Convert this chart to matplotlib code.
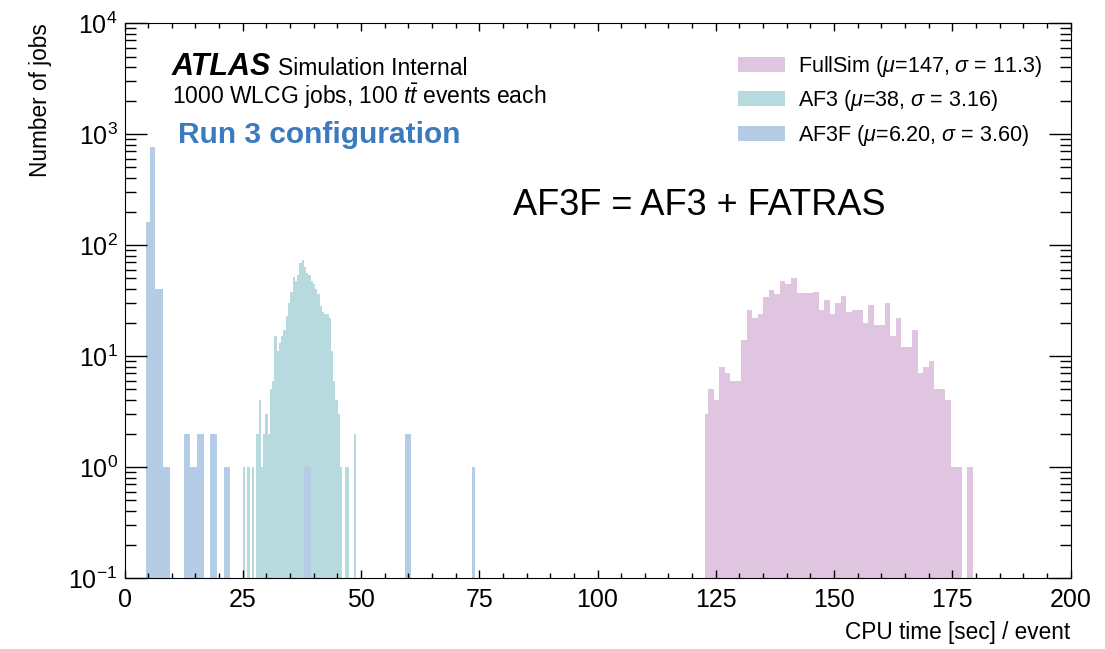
import numpy as np
import matplotlib
matplotlib.use("Agg")
import matplotlib.pyplot as plt
from matplotlib.ticker import MultipleLocator, LogLocator, NullFormatter

plt.rcParams['font.family'] = ['Liberation Sans', 'DejaVu Sans']
plt.rcParams['mathtext.fontset'] = 'custom'
plt.rcParams['mathtext.rm'] = 'Liberation Sans'
plt.rcParams['mathtext.it'] = 'Liberation Sans:italic'
plt.rcParams['mathtext.bf'] = 'Liberation Sans:bold'

# FullSim: jobs per bin (first bin is a short one)
fullsim_edges = np.r_[122.7, np.linspace(123.43, 179.35, 49)]
fullsim_counts = [3, 5, 4, 8, 7, 6, 6, 14, 26, 22, 24, 34, 39, 36, 47, 45, 51,
                  37, 37, 37, 38, 26, 32, 24, 30, 35, 25, 26, 26, 20, 29, 19,
                  19, 30, 15, 22, 12, 12, 17, 7, 8, 9, 5, 5, 4, 1, 1, 0, 1]

# AF3
af3_edges = np.linspace(25.0, 48.9, 51)
af3_counts = [1, 0, 1, 0, 1, 0, 2, 4, 1, 2, 3, 2, 5, 6, 15, 11, 13, 15, 17, 23,
              30, 38, 52, 47, 54, 69, 73, 63, 56, 54, 47, 45, 40, 36, 28, 25,
              24, 24, 22, 11, 6, 4, 3, 1, 0, 1, 1, 0, 0, 2]

# AF3F
af3f_edges = [4.6, 5.45, 6.5, 8.2, 9.6, 12.5, 13.9, 15.3, 16.75, 18.15, 19.6,
              21.0, 22.4, 38.0, 39.4, 59.3, 60.6, 73.4, 74.1]
af3f_counts = [160, 760, 40, 1, 0, 2, 1, 2, 0, 2, 0, 1, 0, 1, 0, 2, 0, 1]

labels = ['FullSim ($\\mu$=147, $\\sigma$ = 11.3)',
          'AF3 ($\\mu$=38, $\\sigma$ = 3.16)',
          'AF3F ($\\mu$=6.20, $\\sigma$ = 3.60)']
colors = ['#e0c5e0', '#b6dade', '#b4cce6']

fig = plt.figure(figsize=(11.05, 6.49), dpi=100)
ax = fig.add_axes([0.1127, 0.1094, 0.8561, 0.855])
ax.set_yscale('log')

for edges, counts, lab, col in zip([fullsim_edges, af3_edges, af3f_edges],
                                   [fullsim_counts, af3_counts, af3f_counts],
                                   labels, colors):
    edges = np.asarray(edges)
    centers = 0.5 * (edges[:-1] + edges[1:])
    ax.hist(centers, bins=edges, weights=counts, histtype='stepfilled',
            color=col, linewidth=0, label=lab)

ax.set_xlim(0, 200)
ax.set_ylim(0.1, 1e4)
ax.xaxis.set_major_locator(MultipleLocator(25))
ax.xaxis.set_minor_locator(MultipleLocator(5))
ax.yaxis.set_major_locator(LogLocator(base=10, numticks=10))
ax.yaxis.set_minor_locator(LogLocator(base=10, subs=np.arange(2, 10), numticks=20))
ax.yaxis.set_minor_formatter(NullFormatter())

ax.tick_params(which='both', direction='in', top=True, right=True, width=1)
ax.tick_params(axis='y', which='major', length=16, labelsize=18, pad=5)
ax.tick_params(axis='y', which='minor', length=8)
ax.tick_params(axis='x', which='major', length=6, labelsize=18, pad=7)
ax.tick_params(axis='x', which='minor', length=3.5)

ax.set_ylabel('Number of jobs', loc='top', fontsize=16.3, labelpad=12)
ax.set_xlabel('CPU time [sec] / event', loc='right', fontsize=16.3, labelpad=7)

ax.text(0.050, 0.906, 'ATLAS', transform=ax.transAxes, fontsize=22,
        fontweight='bold', fontstyle='italic', va='baseline')
ax.text(0.162, 0.906, 'Simulation Internal', transform=ax.transAxes,
        fontsize=16.5, va='baseline')
ax.text(0.050, 0.854, '1000 WLCG jobs, 100 $t\\bar{t}$ events each',
        transform=ax.transAxes, fontsize=16.5, va='baseline')
ax.text(0.0566, 0.784, 'Run 3 configuration', transform=ax.transAxes,
        fontsize=21.5, fontweight='bold', color='#3a7abd', va='baseline')
ax.text(0.4106, 0.654, 'AF3F = AF3 + FATRAS', transform=ax.transAxes,
        fontsize=26, va='baseline')

ax.legend(loc='upper right', bbox_to_anchor=(0.970, 0.945), frameon=False,
          fontsize=15.5, handlelength=2.2, handleheight=0.7, handletextpad=0.6,
          labelspacing=0.45, borderpad=0, borderaxespad=0)

fig.savefig('out.png', dpi=100)
